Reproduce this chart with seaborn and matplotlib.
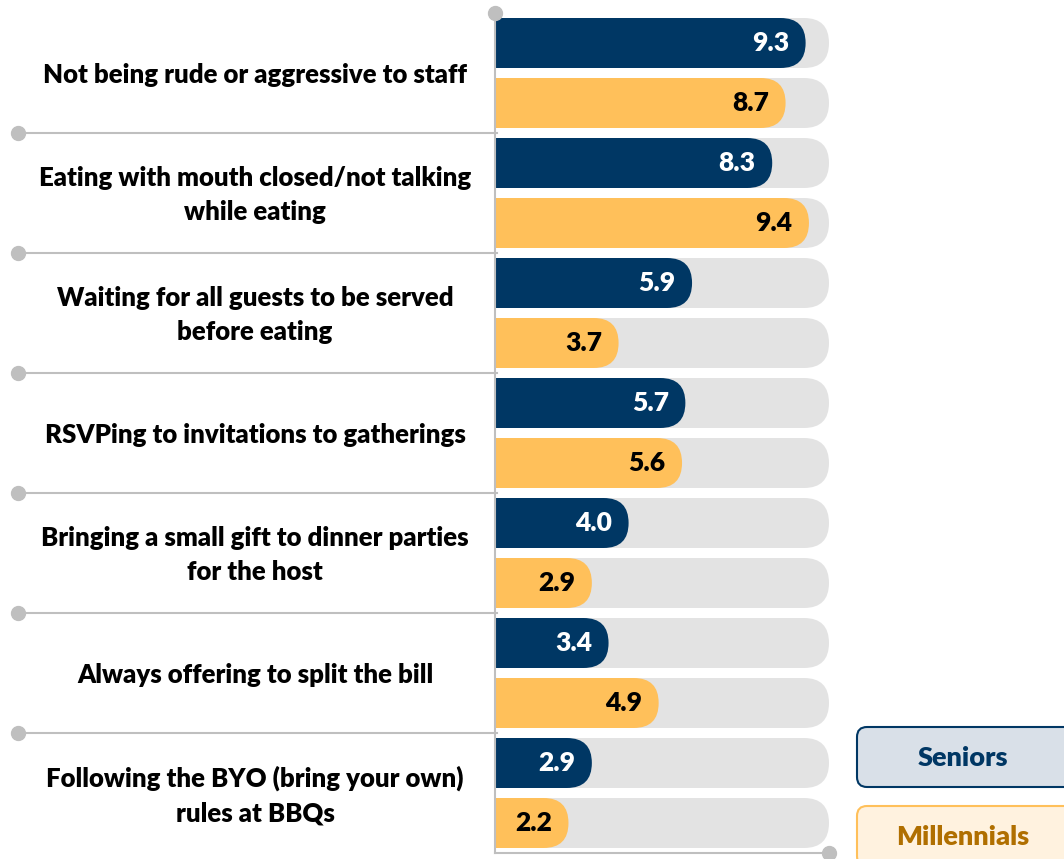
import numpy as np
import pandas as pd
import seaborn as sns
import matplotlib.pyplot as plt
from matplotlib import transforms
from matplotlib.patches import FancyBboxPatch

# data
categories = [
    "Not being rude or aggressive to staff",
    "Eating with mouth closed/not talking\nwhile eating",
    "Waiting for all guests to be served\nbefore eating",
    "RSVPing to invitations to gatherings",
    "Bringing a small gift to dinner parties\nfor the host",
    "Always offering to split the bill",
    "Following the BYO (bring your own)\nrules at BBQs",
]
seniors = [9.3, 8.3, 5.9, 5.7, 4.0, 3.4, 2.9]
millennials = [8.7, 9.4, 3.7, 5.6, 2.9, 4.9, 2.2]
groups = ["Seniors", "Millennials"]
scale_max = 10

navy = "#003764"
gold = "#FFC05A"
track = "#E3E3E3"
rule = "#BFBFBF"

plt.rcParams["font.family"] = ["Lato", "DejaVu Sans"]

df = pd.DataFrame({
    "category": categories * 2,
    "group": [groups[0]] * len(categories) + [groups[1]] * len(categories),
    "score": seniors + millennials,
})
df["full"] = scale_max

W, H = 1064, 859
fig = plt.figure(figsize=(W / 100, H / 100), dpi=100)
ax = fig.add_axes([495 / W, 1 - 853 / H, 334 / W, 840 / H])

common = dict(data=df, y="category", hue="group", orient="h", width=1.0, gap=1 / 6,
              saturation=1, errorbar=None, legend=False, ax=ax)
sns.barplot(x="full", palette={g: track for g in groups}, **common)
n_track = len(ax.patches)
sns.barplot(x="score", palette={groups[0]: navy, groups[1]: gold}, **common)

ax.set_xlim(0, scale_max)
ax.set_ylim(len(categories) - 0.5, -0.5)

# turn the plain bars into bars with a rounded right end
px_x = 334 / scale_max
px_y = 840 / len(categories)
bars = list(ax.patches)
for i, p in enumerate(bars):
    x0, y0, w, h = p.get_x(), p.get_y(), p.get_width(), p.get_height()
    fc = p.get_facecolor()
    rx = (h * px_y / 2) / px_x
    p.remove()
    ax.add_patch(FancyBboxPatch((x0 - rx, y0), w + rx, h,
                                boxstyle=f"round,pad=0,rounding_size={rx}",
                                mutation_aspect=(h / 2) / rx,
                                fc=fc, ec="none", lw=0))
    if i >= n_track:
        txt_color = "white" if i - n_track < len(categories) else "black"
        ax.annotate(f"{w:.1f}", (w, y0 + h / 2), xytext=(-12, 0),
                    textcoords="offset points", ha="right", va="center",
                    fontsize=19, fontweight="heavy", color=txt_color)

for s in ["top", "right"]:
    ax.spines[s].set_visible(False)
for s in ["left", "bottom"]:
    ax.spines[s].set_color(rule)
    ax.spines[s].set_linewidth(1.5)
ax.set_xticks([])
ax.set_yticks([])
ax.set_xlabel("")
ax.set_ylabel("")

ax.plot(0, -0.5, "o", ms=10, color=rule, clip_on=False, zorder=5)
ax.plot(scale_max, len(categories) - 0.5, "o", ms=10, color=rule, clip_on=False, zorder=5)

# category labels and separator rules on the left
tr = transforms.blended_transform_factory(fig.transFigure, ax.transData)
for i, label in enumerate(categories):
    ax.text(255 / W, i + 0.02, label, transform=tr, ha="center", va="center",
            fontsize=18.5, fontweight="heavy", color="black", linespacing=1.5)
for yb in np.arange(0.5, len(categories) - 0.5):
    ax.plot([18 / W, 497 / W], [yb, yb], color=rule, lw=1.5, transform=tr, clip_on=False)
    ax.plot([18 / W], [yb], "o", ms=10, color=rule, transform=tr, clip_on=False)

# legend boxes at bottom right
boxes = [
    ("Seniors", 727, "#D9E0E8", navy, navy),
    ("Millennials", 806, "#FFF2DF", gold, "#B06F00"),
]
for name, top, fc, ec, tc in boxes:
    fig.add_artist(FancyBboxPatch((857 / 100, (H - top - 60) / 100), 2.5, 0.60,
                                  boxstyle="round,pad=0,rounding_size=0.1",
                                  fc=fc, ec=ec, lw=1.5, transform=fig.dpi_scale_trans))
    fig.text(963 / W, 1 - (top + 31) / H, name, ha="center", va="center",
             fontsize=19.5, fontweight="heavy", color=tc)

fig.savefig("out.png", dpi=100)
